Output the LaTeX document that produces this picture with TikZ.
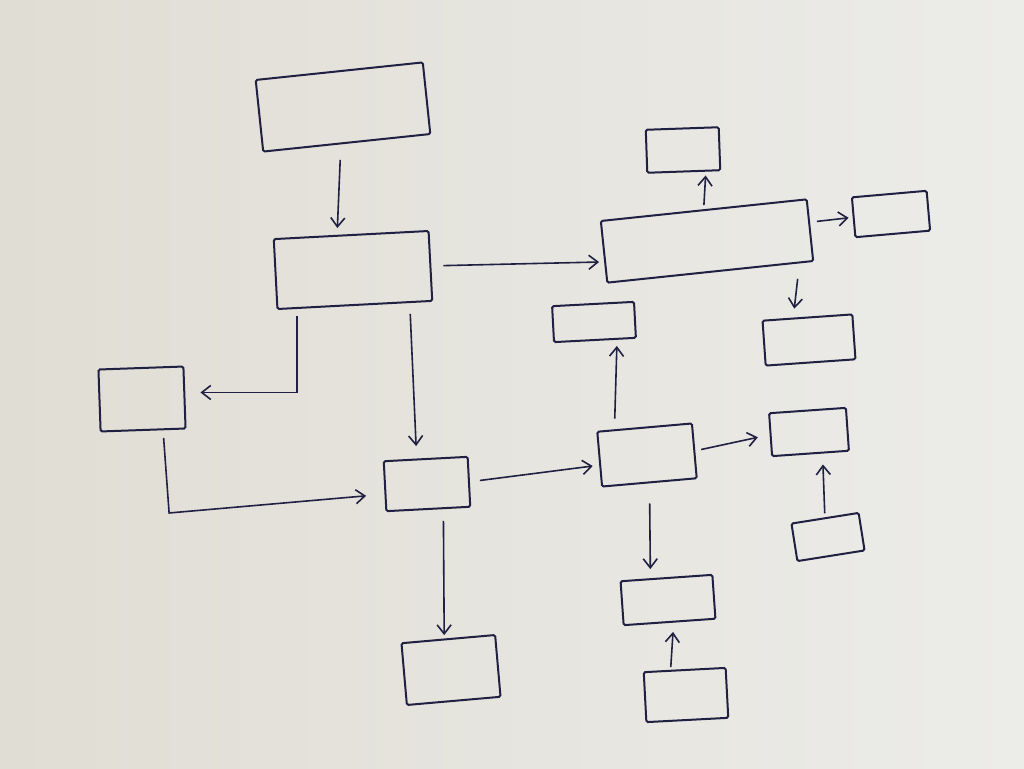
\documentclass[tikz,border=0pt]{standalone}
\usetikzlibrary{arrows.meta}

\definecolor{ink}{RGB}{32,32,66}
\definecolor{paperL}{RGB}{224,221,212}
\definecolor{paperR}{RGB}{236,236,233}

\tikzset{
    box/.style={draw=ink, line width=2pt, rounded corners=1.5pt,
        inner sep=0pt, minimum width=#1},
    arr/.style={draw=ink, line width=1.6pt,
        -{Straight Barb[length=9pt, width=14pt]}},
}

\begin{document}
\begin{tikzpicture}[x=1pt, y=-1pt]
    \shade[left color=paperL, right color=paperR]
        (0,0) rectangle (1024,768);

    % left column
    \node[box=168pt, minimum height=72pt, rotate=6] (start) at (343,107) {};
    \node[box=155pt, minimum height=70pt, rotate=3] (second) at (353,270) {};
    \node[box=85pt, minimum height=62pt, rotate=2] (side) at (142,399) {};
    \node[box=84pt, minimum height=50pt, rotate=3] (hub) at (427,484) {};
    \node[box=94pt, minimum height=62pt, rotate=5] (sink) at (451,670) {};

    % right part
    \node[box=207pt, minimum height=62pt, rotate=6] (wide) at (707,241) {};
    \node[box=73pt, minimum height=43pt, rotate=2] (up) at (683,150) {};
    \node[box=75pt, minimum height=40pt, rotate=5] (far) at (891,214) {};
    \node[box=82pt, minimum height=36pt, rotate=3] (hubUp) at (594,322) {};
    \node[box=90pt, minimum height=45pt, rotate=4] (wideDown) at (809,340) {};
    \node[box=95pt, minimum height=55pt, rotate=5] (branch) at (647,455) {};
    \node[box=77pt, minimum height=43pt, rotate=4] (right) at (809,432) {};
    \node[box=68pt, minimum height=38pt, rotate=9] (feed) at (828,537) {};
    \node[box=92pt, minimum height=44pt, rotate=4] (lower) at (668,600) {};
    \node[box=82pt, minimum height=50pt, rotate=3] (base) at (686,695) {};

    % connectors
    \draw[arr, shorten <=16pt, shorten >=6pt]
        ([xshift=-6pt]start.south) -- ([xshift=-14pt]second.north);
    \draw[arr, shorten <=12pt, shorten >=4pt]
        (second.east) -- ([yshift=-10pt]wide.west);
    \draw[arr, shorten <=10pt, shorten >=15pt]
        ([xshift=-58pt]second.south) |- ([yshift=5pt]side.east);
    \draw[arr, shorten <=8pt, shorten >=12pt]
        ([xshift=55pt]second.south) -- ([xshift=-9pt]hub.north);
    \draw[arr, shorten <=7pt, shorten >=18pt]
        ([xshift=20pt]side.south) -- ++(6,82) -- ([yshift=-8pt]hub.west);
    \draw[arr, shorten <=10pt, shorten >=6pt]
        (hub.east) -- ([yshift=-6pt]branch.west);
    \draw[arr, shorten <=11pt, shorten >=3pt]
        ([xshift=15pt]hub.south) -- ([xshift=-4pt]sink.north);

    \draw[arr, shorten <=4pt, shorten >=3pt]
        (wide.north) -- ([xshift=22pt]up.south);
    \draw[arr, shorten <=6pt, shorten >=4pt]
        ([yshift=8pt]wide.east) -- (far.west);
    \draw[arr, shorten <=6pt, shorten >=8pt]
        ([xshift=88pt]wide.south) -- ([xshift=-14pt]wideDown.north);
    \draw[arr, shorten <=8pt, shorten >=5pt]
        ([xshift=-30pt]branch.north) -- ([xshift=22pt]hubUp.south);
    \draw[arr, shorten <=6pt, shorten >=12pt]
        (branch.east) -- (right.west);
    \draw[arr, shorten <=20pt, shorten >=8pt]
        (branch.south) -- ([xshift=-16pt]lower.north);
    \draw[arr, shorten <=4pt, shorten >=10pt]
        (feed.north) -- ([xshift=12pt]right.south);
    \draw[arr, shorten <=2pt, shorten >=9pt]
        ([xshift=-14pt]base.north) -- ([xshift=4pt]lower.south);
\end{tikzpicture}
\end{document}
